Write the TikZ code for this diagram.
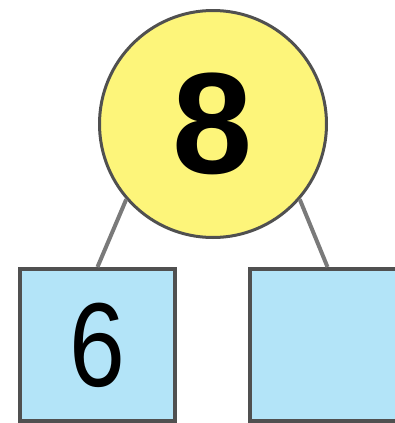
\documentclass[tikz,border=0pt]{standalone}
\usepackage{fontspec}
\setmainfont{Liberation Sans}
\usepackage{graphicx}
\usepackage{xcolor}
\usepackage{tikz}
\definecolor{ballfill}{RGB}{253,245,122}
\definecolor{boxfill}{RGB}{179,228,248}
\definecolor{rim}{RGB}{80,80,80}
\definecolor{stick}{RGB}{122,122,122}
\tikzset{
ball/.style={circle,draw=rim,fill=ballfill,line width=0.15cm,minimum size=11.35cm,inner sep=0pt,
 font=\fontsize{205}{205}\selectfont\bfseries},
part/.style={rectangle,draw=rim,fill=boxfill,line width=0.2cm,minimum width=7.75cm,minimum height=7.6cm,inner sep=0pt,
 font=\fontsize{170}{170}\selectfont},
stem/.style={draw=stick,line width=0.2cm}
}
\begin{document}
\begin{tikzpicture}
\path[use as bounding box,clip](0,0)rectangle(19.75,-21.15);
\node[ball](whole)at(10.65,-6.2){8};
\node[part](left)at(4.875,-17.25){\scalebox{0.84}[1]{6}};
\node[part](right)at(16.375,-17.25){};
\draw[stem](whole.221)--(left.north);
\draw[stem](whole.319)--(right.north);
\end{tikzpicture}
\end{document}
